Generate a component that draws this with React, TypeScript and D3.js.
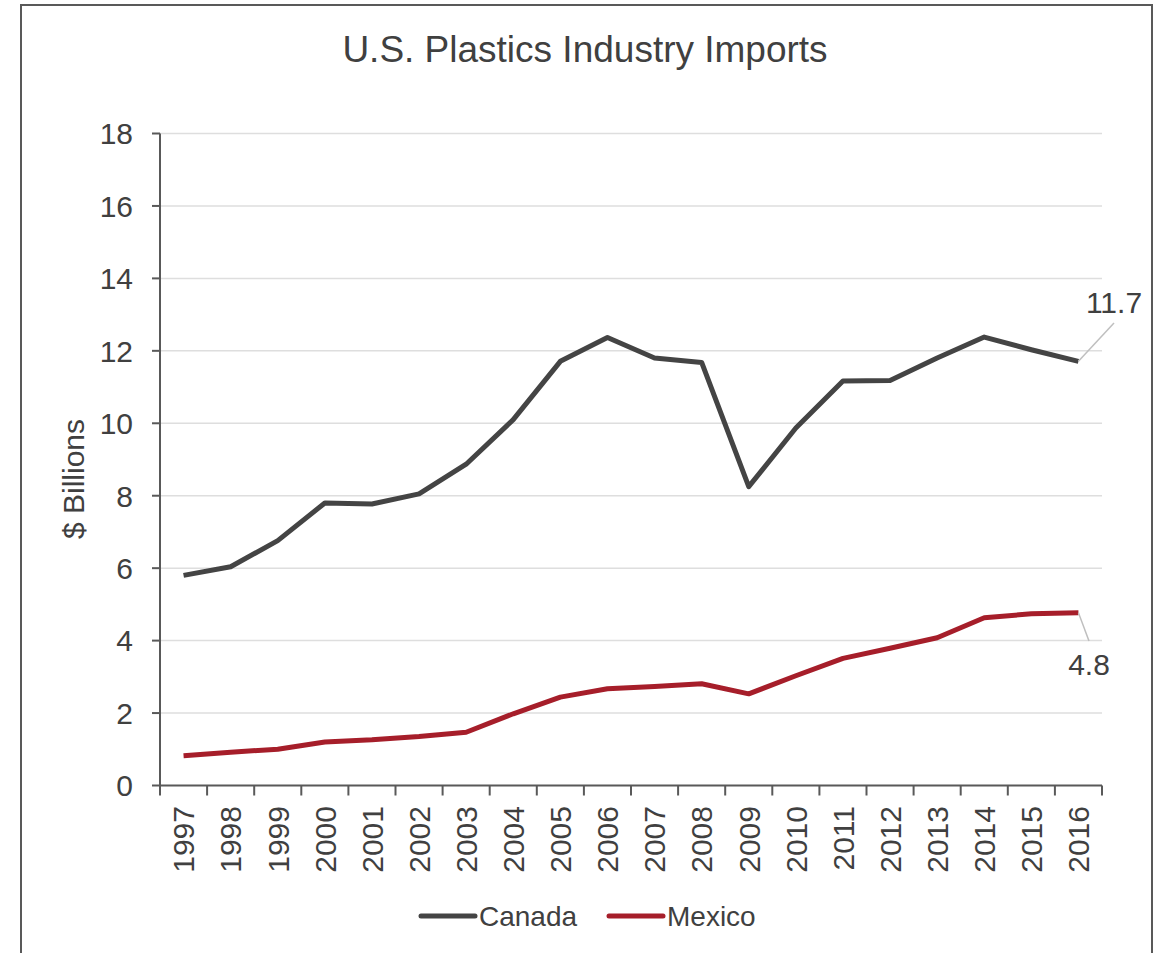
import React from "react";
import * as d3 from "d3";

const years = ["1997","1998","1999","2000","2001","2002","2003","2004","2005","2006","2007","2008","2009","2010","2011","2012","2013","2014","2015","2016"];
const canada = [5.80,6.04,6.76,7.80,7.77,8.05,8.87,10.10,11.71,12.37,11.80,11.68,8.25,9.87,11.17,11.18,11.80,12.38,12.03,11.71];
const mexico = [0.82,0.92,1.00,1.20,1.26,1.35,1.47,1.98,2.44,2.67,2.73,2.81,2.53,3.03,3.51,3.79,4.08,4.63,4.74,4.77];
const yTicks = [0,2,4,6,8,10,12,14,16,18];
const seriesNames = ["Canada","Mexico"];
const seriesColors = ["#444444","#A61E2A"];

const W = 1167, H = 953;
const FONT = "'Liberation Sans', Arial, sans-serif";

export default function App() {
  const x = d3.scaleBand<string>().domain(years).range([160, 1102]).padding(0);
  const y = d3.scaleLinear().domain([0, 18]).range([785.5, 133.5]);
  const cx = (yr: string) => (x(yr) as number) + x.bandwidth() / 2;
  const line = d3.line<number>().x((_, i) => cx(years[i])).y(d => y(d));
  const series = [canada, mexico];
  const boundaries = years.map(yr => x(yr) as number).concat([1102]);
  const last = years.length - 1;
  const cLast = { x: cx(years[last]), y: y(canada[last]) };
  const mLast = { x: cx(years[last]), y: y(mexico[last]) };

  return (
    <svg width={W} height={H} style={{ position: "absolute", left: 0, top: 0, background: "#fff" }} fontFamily={FONT}>
      <rect x={0} y={0} width={W} height={H} fill="#fff" />
      <rect x={21} y={5} width={1131} height={970} fill="none" stroke="#595959" strokeWidth={2} />
      <text x={585} y={62} textAnchor="middle" fontSize={37} fill="#404040">U.S. Plastics Industry Imports</text>

      {yTicks.filter(t => t > 0).map(t => (
        <line key={"g" + t} x1={160} x2={1102} y1={y(t)} y2={y(t)} stroke="#dedede" strokeWidth={1.5} />
      ))}
      {yTicks.map(t => (
        <g key={"yt" + t}>
          <line x1={152} x2={160} y1={y(t)} y2={y(t)} stroke="#595959" strokeWidth={2} />
          <text x={133} y={y(t)} dy="0.36em" textAnchor="end" fontSize={30} fill="#404040">{t}</text>
        </g>
      ))}
      <line x1={160} x2={160} y1={y(18)} y2={y(0)} stroke="#595959" strokeWidth={2} />
      <line x1={160} x2={1102} y1={y(0)} y2={y(0)} stroke="#595959" strokeWidth={2} />
      {boundaries.map((b, i) => (
        <line key={"xt" + i} x1={b} x2={b} y1={y(0)} y2={y(0) + 10} stroke="#595959" strokeWidth={2} />
      ))}
      {years.map(yr => (
        <text key={"yl" + yr} transform={`translate(${cx(yr)},806) rotate(-90)`} textAnchor="end" dy="0.36em" fontSize={30} fill="#404040">{yr}</text>
      ))}
      <text transform="translate(84,479) rotate(-90)" textAnchor="middle" fontSize={30} fill="#404040">$ Billions</text>

      {series.map((s, i) => (
        <path key={"s" + i} d={line(s) as string} fill="none" stroke={seriesColors[i]} strokeWidth={5} strokeLinejoin="round" />
      ))}

      <line x1={cLast.x} y1={cLast.y} x2={1114} y2={323} stroke="#bfbfbf" strokeWidth={1.5} />
      <text x={1114} y={313} textAnchor="middle" fontSize={30} fill="#404040">{canada[last].toFixed(1)}</text>
      <line x1={mLast.x} y1={mLast.y} x2={1089} y2={641} stroke="#bfbfbf" strokeWidth={1.5} />
      <text x={1089} y={675} textAnchor="middle" fontSize={30} fill="#404040">{mexico[last].toFixed(1)}</text>

      {seriesNames.map((n, i) => {
        const lx = i === 0 ? 421 : 609;
        return (
          <g key={"lg" + n}>
            <line x1={lx} x2={lx + 54} y1={916} y2={916} stroke={seriesColors[i]} strokeWidth={5} strokeLinecap="round" />
            <text x={lx + 58} y={926} fontSize={28} fill="#404040">{n}</text>
          </g>
        );
      })}
    </svg>
  );
}
